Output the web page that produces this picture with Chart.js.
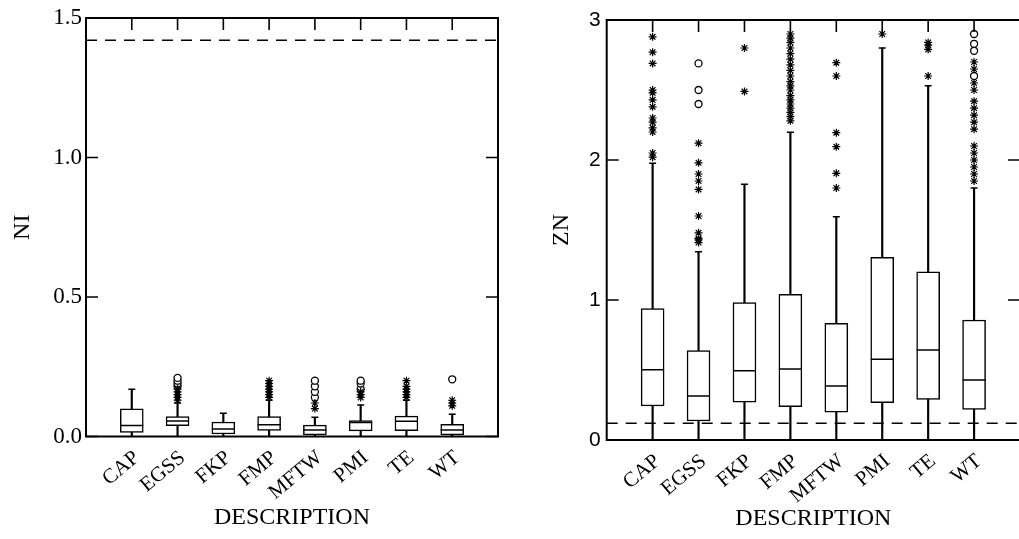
<!DOCTYPE html>
<html>
<head>
<meta charset="utf-8">
<script src="https://cdn.jsdelivr.net/npm/chart.js@4.4.0/dist/chart.umd.min.js"></script>
<style>
  html, body { margin: 0; padding: 0; background: #fff; overflow: hidden; }
  #wrap { position: relative; width: 1019px; height: 539px; overflow: hidden; }
  canvas { position: absolute; top: 0; }
  #niChart { left: 0; }
  #znChart { left: 510px; }
</style>
</head>
<body>
<div id="wrap">
  <canvas id="niChart" width="510" height="539"></canvas>
  <canvas id="znChart" width="511" height="539"></canvas>
</div>
<script>
const categories = ['CAP', 'EGSS', 'FKP', 'FMP', 'MFTW', 'PMI', 'TE', 'WT'];

// NI panel (left)
const niMin = [0, 0, 0, 0, 0, 0, 0, 0];
const niQ1 = [0.015, 0.039, 0.009, 0.022, 0.006, 0.020, 0.021, 0.006];
const niMed = [0.039, 0.056, 0.027, 0.042, 0.023, 0.050, 0.055, 0.023];
const niQ3 = [0.099, 0.071, 0.052, 0.071, 0.041, 0.057, 0.073, 0.044];
const niMax = [0.169, 0.120, 0.083, 0.130, 0.069, 0.113, 0.130, 0.080];
const niStars = [
  [],
  [0.13, 0.14, 0.15, 0.16, 0.17],
  [],
  [0.14, 0.15, 0.16, 0.17, 0.18, 0.19, 0.20],
  [0.10, 0.12],
  [0.14, 0.15, 0.16],
  [0.14, 0.15, 0.16, 0.17, 0.18, 0.20],
  [0.11, 0.12, 0.13],
];
const niCircles = [
  [],
  [0.18, 0.19, 0.20, 0.21],
  [],
  [],
  [0.14, 0.16, 0.18, 0.20],
  [0.17, 0.19, 0.20],
  [],
  [0.205],
];
const niLimit = 1.42;
const niTickLabels = ['0.0', '0.5', '1.0', '1.5'];

// ZN panel (right)
const znMin = [0, 0, 0, 0, 0, 0, 0, 0];
const znQ1 = [0.243, 0.136, 0.271, 0.238, 0.198, 0.267, 0.290, 0.219];
const znMed = [0.502, 0.314, 0.495, 0.507, 0.386, 0.576, 0.643, 0.429];
const znQ3 = [0.938, 0.638, 0.981, 1.040, 0.833, 1.305, 1.202, 0.857];
const znMax = [1.976, 1.345, 1.826, 2.198, 1.595, 2.800, 2.530, 1.800];
const znStars = [
  [2.02, 2.05, 2.20, 2.23, 2.27, 2.30, 2.38, 2.43, 2.48, 2.50, 2.69, 2.77, 2.88],
  [1.41, 1.43, 1.44, 1.48, 1.60, 1.79, 1.85, 1.90, 1.98, 2.12],
  [2.49, 2.80],
  [2.28, 2.31, 2.34, 2.37, 2.40, 2.43, 2.46, 2.50, 2.53, 2.56, 2.60, 2.64, 2.68, 2.72, 2.76, 2.80, 2.84, 2.87, 2.90],
  [1.80, 1.905, 2.095, 2.195, 2.60, 2.695],
  [2.90],
  [2.60, 2.79, 2.82, 2.84],
  [1.85, 1.90, 1.95, 2.00, 2.05, 2.10, 2.22, 2.27, 2.32, 2.37, 2.42, 2.50, 2.55, 2.65, 2.70],
];
const znCircles = [
  [],
  [2.40, 2.50, 2.69],
  [],
  [],
  [],
  [],
  [],
  [2.60, 2.78, 2.83, 2.90],
];
const znLimit = 0.12;
const znTickLabels = ['0', '1', '2', '3'];

const serif = '"Liberation Serif", "Times New Roman", serif';
const sans = '"Liberation Sans", Arial, sans-serif';

const toPoints = (vals) => vals.map((v, i) => ({ x: i + 1, y: v }));
const toRanges = (lo, hi) => lo.map((v, i) => ({ x: i + 1, y: [v, hi[i]] }));
const flatten = (groups) => groups.flatMap((vals, i) => vals.map((v) => ({ x: i + 1, y: v })));

// box frame with inward ticks on all four sides
const framePlugin = {
  id: 'frame',
  afterDatasetsDraw(chart) {
    const { ctx, chartArea: a, scales } = chart;
    ctx.save();
    ctx.strokeStyle = '#000';
    ctx.lineWidth = 2;
    ctx.strokeRect(a.left, a.top, a.right - a.left, a.bottom - a.top);
    ctx.lineWidth = 1.6;
    ctx.beginPath();
    scales.y.ticks.forEach((t) => {
      const y = scales.y.getPixelForValue(t.value);
      ctx.moveTo(a.left, y);
      ctx.lineTo(a.left + 12, y);
      ctx.moveTo(a.right, y);
      ctx.lineTo(a.right - 12, y);
    });
    scales.x.ticks.forEach((t) => {
      if (t.value < 1 || t.value > categories.length) return;
      const x = scales.x.getPixelForValue(t.value);
      ctx.moveTo(x, a.top);
      ctx.lineTo(x, a.top + 12);
    });
    ctx.stroke();
    ctx.restore();
  }
};

const makeChart = (id, cfg) => new Chart(id, {
  type: 'bar',
  data: {
    datasets: [
      {
        type: 'scatter',
        data: flatten(cfg.stars),
        pointStyle: 'star',
        pointRadius: 4,
        borderColor: '#000',
        borderWidth: 1.2,
        order: 0,
      },
      {
        type: 'scatter',
        data: flatten(cfg.circles),
        pointStyle: 'circle',
        pointRadius: 3.5,
        backgroundColor: '#fff',
        borderColor: '#000',
        borderWidth: 1.3,
        order: 0,
      },
      {
        type: 'scatter',
        data: toPoints(cfg.med),
        pointStyle: 'line',
        pointRadius: 11.5,
        borderColor: '#000',
        borderWidth: 1.5,
        order: 1,
      },
      {
        type: 'scatter',
        data: toPoints(cfg.max),
        pointStyle: 'line',
        pointRadius: 3.5,
        borderColor: '#000',
        borderWidth: 1.5,
        order: 1,
      },
      {
        type: 'bar',
        data: toRanges(cfg.q1, cfg.q3),
        barThickness: 23,
        backgroundColor: '#fff',
        borderColor: '#000',
        borderWidth: 1.5,
        borderSkipped: false,
        grouped: false,
        order: 2,
      },
      {
        type: 'bar',
        data: toRanges(cfg.min, cfg.max),
        barThickness: 1.5,
        backgroundColor: '#000',
        borderWidth: 0,
        grouped: false,
        order: 3,
      },
      {
        type: 'line',
        data: [{ x: 0, y: cfg.limit }, { x: categories.length + 1, y: cfg.limit }],
        borderColor: '#000',
        borderWidth: 1.6,
        borderDash: [11, 8],
        pointRadius: 0,
        order: 4,
      },
    ]
  },
  options: {
    responsive: false,
    animation: false,
    layout: { padding: cfg.padding, autoPadding: false },
    plugins: { legend: { display: false }, tooltip: { enabled: false } },
    scales: {
      x: {
        type: 'linear',
        min: 0,
        max: categories.length + 1,
        offset: false,
        grid: { display: false, drawTicks: false, offset: false },
        border: { display: false },
        ticks: {
          stepSize: 1,
          autoSkip: false,
          minRotation: 40,
          maxRotation: 40,
          labelOffset: 5,
          padding: 9,
          color: '#000',
          font: { family: serif, size: 21 },
          callback: (v) => categories[v - 1] || '',
        },
        title: {
          display: true,
          text: 'DESCRIPTION',
          color: '#000',
          font: { family: serif, size: 24 },
          padding: 0,
        },
        afterFit: (s) => {
          s.height = cfg.xHeight;
          s.paddingLeft = 0;
          s.paddingRight = 0;
        },
      },
      y: {
        min: 0,
        max: cfg.yMax,
        grid: { display: false, drawTicks: false },
        border: { display: false },
        ticks: {
          stepSize: cfg.yStep,
          padding: cfg.yPad,
          color: '#000',
          font: cfg.yFont,
          callback: (v, i) => cfg.tickLabels[i],
        },
        title: {
          display: true,
          text: cfg.yTitle,
          color: '#000',
          font: { family: serif, size: 24 },
          padding: 0,
        },
        afterFit: (s) => { s.width = cfg.yWidth; },
      },
    }
  },
  plugins: [framePlugin],
});

makeChart('niChart', {
  min: niMin, q1: niQ1, med: niMed, q3: niQ3, max: niMax,
  stars: niStars, circles: niCircles, limit: niLimit,
  tickLabels: niTickLabels, yMax: 1.5, yStep: 0.5, yTitle: 'NI',
  yFont: { family: serif, size: 23 }, yPad: 4,
  padding: { left: 8, right: 12, top: 18, bottom: 6.6 },
  yWidth: 78, xHeight: 95.9,
});

makeChart('znChart', {
  min: znMin, q1: znQ1, med: znMed, q3: znQ3, max: znMax,
  stars: znStars, circles: znCircles, limit: znLimit,
  tickLabels: znTickLabels, yMax: 3, yStep: 1, yTitle: 'ZN',
  yFont: { family: sans, size: 21 }, yPad: 6,
  padding: { left: 37.6, right: 1, top: 20, bottom: 6.3 },
  yWidth: 59.1, xHeight: 92.7,
});
</script>
</body>
</html>
